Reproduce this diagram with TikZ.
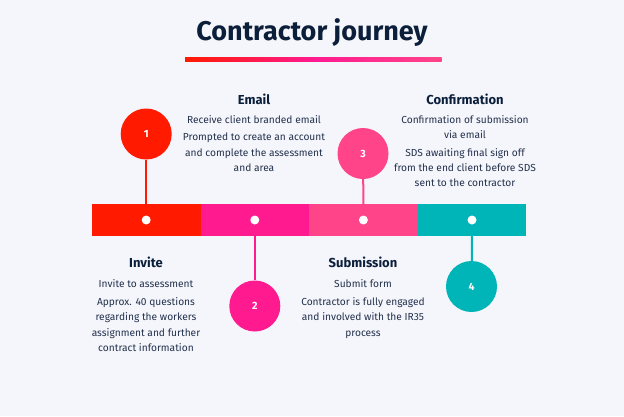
\documentclass[tikz,border=0pt]{standalone}
\usepackage{fontspec}
\setmainfont{Fira Sans}
\usetikzlibrary{positioning}
\definecolor{bg}{HTML}{F5F6FB}
\definecolor{navy}{HTML}{0B1F3B}
\definecolor{ink}{HTML}{22304C}
\definecolor{cred}{HTML}{FF1A00}
\definecolor{cmag}{HTML}{FF1A90}
\definecolor{cpink}{HTML}{FF448A}
\definecolor{cteal}{HTML}{00B5B8}

\begin{document}
\begin{tikzpicture}[x=1pt, y=-1pt,
  seg/.style={minimum width=108.6pt, minimum height=32pt, inner sep=0pt},
  num/.style={circle, minimum size=51pt, inner sep=0pt, text=white, font=\bfseries\fontsize{10.5}{10.5}\selectfont},
  dot/.style={circle, fill=white, minimum size=9pt, inner sep=0pt},
  stem/.style={line width=2pt},
  head/.style={text=navy, font=\bfseries\fontsize{13}{14}\selectfont},
  body/.style={anchor=north, align=center, inner sep=0pt, text=ink, font=\fontsize{10.2}{15.3}\selectfont}]
          \fill[bg] (0, 0) rectangle (624, 416);
          \useasboundingbox (0, 0) rectangle (624, 416);

          % title
          \node[text=navy, font=\bfseries\fontsize{27}{32}\selectfont] (title) at (312, 33) {Contractor journey};
          \shade[left color=cred, right color=cpink, middle color=cmag] (185, 57) rectangle (441.5, 61.5);

          % timeline
          \node[seg, fill=cred] (seg1) at (146.2, 220) {};
          \node[seg, fill=cmag] (seg2) at (254.8, 220) {};
          \node[seg, fill=cpink] (seg3) at (363.4, 220) {};
          \node[seg, fill=cteal] (seg4) at (472, 220) {};
          \node[dot] (dot1) at (seg1) {};
          \node[dot] (dot2) at (seg2) {};
          \node[dot] (dot3) at (seg3) {};
          \node[dot] (dot4) at (seg4) {};

          % numbered steps
          \node[num, fill=cred] (num1) at (146.2, 134) {1};
          \node[num, fill=cmag] (num2) at (254.8, 306) {2};
          \node[num, fill=cpink] (num3) at (363, 153.5) {3};
          \node[num, fill=cteal] (num4) at (471.5, 286.5) {4};
          \draw[stem, cred] (num1) -- (seg1.north);
          \draw[stem, cmag] (seg2.south) -- (num2);
          \draw[stem, cpink] (num3) -- (seg3.north);
          \draw[stem, cteal] (seg4.south) -- (num4);

          % texts
          \node[head] (emailhead) at (254, 99) {Email};
          \node[body] (emailtext) at (254, 115.5) {Receive client branded email\\[2pt]
            Prompted to create an account\\and complete the assessment\\and area};
          \node[head] (confhead) at (465, 99) {Confirmation};
          \node[body] (conftext) at (465, 115.5) {Confirmation of submission\\via email\\[2pt]
            SDS awaiting final sign off\\from the end client before SDS\\sent to the contractor};
          \node[head] (invitehead) at (146, 262) {Invite};
          \node[body] (invitetext) at (146, 279.5) {Invite to assessment\\[2.5pt]
            Approx. 40 questions\\regarding the workers\\assignment and further\\contract information};
          \node[head] (subhead) at (363, 262) {Submission};
          \node[body] (subtext) at (363, 279.5) {Submit form\\[2.5pt]
            Contractor is fully engaged\\and involved with the IR35\\process};
        \end{tikzpicture}
\end{document}
